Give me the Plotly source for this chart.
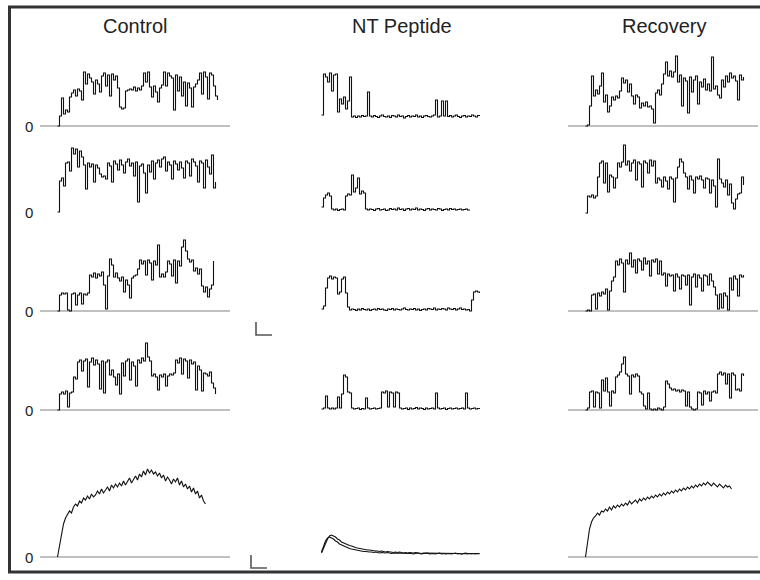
import numpy as np
import plotly.graph_objects as go

W, H = 760, 580
DT_MS = 12.5  # sampling interval of the displayed traces

COLUMN_TITLES = ["Control", "NT Peptide", "Recovery"]
ZERO_LABEL = "0"

# ---- single-channel current traces (pA) ----
ctrl_1 = [0, 1.0, 2.8, 1.2, 1.6, 1.4, 2.9, 3.3, 3.6, 3.0, 3.7, 3.5, 2.6, 5.4, 4.2, 5.2, 4.8,
          4.4, 3.2, 4.6, 4.2, 3.4, 5.0, 5.3, 4.0, 5.1, 3.0, 5.2, 4.6, 5.0, 3.8, 1.9, 1.7, 1.8,
          3.5, 3.6, 3.7, 3.6, 3.9, 3.5, 3.8, 3.6, 4.0, 5.3, 4.4, 5.4, 3.9, 2.9, 4.0, 3.4, 2.4,
          3.8, 4.1, 5.4, 4.0, 5.3, 5.0, 4.8, 1.6, 5.1, 3.5, 4.9, 3.0, 4.4, 2.0, 4.3, 3.8, 1.9,
          3.9, 4.2, 4.6, 5.3, 3.2, 5.4, 4.9, 2.7, 5.3, 5.1, 4.0, 3.0, 2.6]
nt_1 = [0.2, 4.3, 4.0, 3.5, 4.4, 2.6, 4.2, 4.3, 0.5, 1.8, 1.3, 2.0, 0.8, 1.6, 4.0, 0.0,
        0.1, -0.05, 0.1, 0.0, 0.15, 0.05, 0.1, 2.5,
        0.1, 0.0, 0.15, 0.05, -0.05, 0.1, 0.2, 0.05, 0.0, 0.1, -0.05, 0.15, 0.1, 0.0, 0.2, 0.05,
        0.1, -0.1, 0.05, 0.15, 0.0, 0.1, 0.05, 0.2, 0.0, 0.1, -0.05, 0.1, 0.15, 0.05, 0.0, 0.1,
        0.2, 1.7, 0.0, 0.1, 1.6, 0.1, 1.6,
        0.05, 0.15, 0.0, 0.1, 0.2, 0.05, -0.05, 0.1, 0.15, 0.0, 0.1, 0.05, 0.2, 0.1, 0.0, 0.15, 0.1]
rec_1 = [0, 0.1, 2.0, 5.0, 3.0, 3.6, 3.2, 4.0, 5.3, 2.4, 3.1, 1.4, 2.0, 2.9, 2.6, 3.0, 2.8,
         3.5, 4.8, 4.3, 4.6, 3.4, 4.2, 3.0, 2.2, 3.1, 2.9, 1.8, 2.3, 2.0, 2.4, 1.9, 2.0, 1.7,
         0.3, 3.3, 3.6, 3.1, 4.2, 5.2, 6.4, 5.0, 5.5, 4.9, 5.4, 7.0, 4.4, 5.1, 2.0, 4.8, 4.5,
         1.3, 4.9, 3.4, 4.6, 5.0, 2.2, 4.4, 3.9, 4.7, 3.6, 4.2, 3.5, 6.9, 3.7, 4.0, 3.1, 2.8,
         4.6, 3.9, 5.0, 4.4, 5.3, 4.8, 5.0, 4.5, 2.6, 5.1, 4.6, 4.9]

ctrl_2 = [0, 3.1, 3.4, 2.6, 4.9, 5.0, 4.1, 6.4, 5.8, 6.3, 4.5, 6.1, 5.5, 4.7, 2.3, 4.9, 4.5,
          4.8, 3.0, 4.7, 4.4, 3.8, 3.5, 3.6, 3.3, 4.9, 4.6, 3.0, 5.1, 4.8, 4.2, 5.2, 4.7, 3.9,
          5.0, 5.3, 4.6, 4.9, 3.6, 5.0, 1.0, 4.6, 4.8, 3.9, 1.9, 4.7, 4.0, 5.1, 3.3, 4.9, 5.2,
          4.5, 5.3, 5.5, 4.1, 5.0, 4.7, 3.3, 5.1, 4.8, 4.2, 5.0, 4.4, 3.4, 5.1, 4.9, 3.6, 5.3,
          5.0, 4.6, 3.0, 5.1, 4.9, 2.4, 5.2, 4.5, 3.8, 5.7, 2.4, 3.0]
nt_2 = [0.3, 1.2, 1.5, 1.7, 1.4, 0.1, 0.0, 0.1, -0.05, 0.05, 0.1, 0.0,
        1.4, 1.6, 1.5, 3.5, 1.8, 2.2, 3.2, 1.6, 1.9, 1.7, 0.1,
        0.0, 0.1, 0.05, -0.05, 0.1, 0.15, 0.0, 0.05, 0.1, -0.05, 0.0, 0.15, 0.05, 0.1, 0.0,
        0.2, 0.05, 0.1, -0.05, 0.1, 0.15, 0.0, 0.1, 0.05, 0.2, 0.0, 0.1, 0.05, -0.05, 0.1,
        0.15, 0.0, 0.1, 0.05, 0.0, 0.15, 0.1, -0.05, 0.05, 0.1, 0.0, 0.15, 0.05, 0.1, 0.0,
        0.05, 0.1, 0.0, 0.05, 0.1, 0.0, 0.05]
rec_2 = [0, 1.7, 1.6, 1.8, 1.5, 1.7, 3.6, 5.0, 5.2, 3.0, 5.0, 2.1, 3.8, 3.6, 2.5, 3.5, 5.0,
         4.6, 5.1, 6.8, 4.8, 5.2, 4.2, 5.0, 5.3, 3.3, 5.1, 4.9, 2.6, 5.2, 5.0, 4.0, 5.3, 4.7,
         5.2, 3.0, 3.5, 3.3, 2.6, 3.6, 3.2, 2.4, 3.6, 3.4, 1.1, 3.5, 4.6, 5.4, 5.1, 4.0, 3.6,
         2.4, 3.7, 3.3, 2.0, 3.6, 3.4, 3.7, 3.3, 2.5, 3.5, 3.4, 2.0, 3.3, 2.7, 0.6, 5.4, 3.4,
         3.0, 2.6, 3.3, 1.8, 2.9, 1.0, 0.4, 1.4, 1.9, 2.0, 3.6, 2.8]

ctrl_3 = [0, 1.6, 1.8, 1.7, 1.8, 0.1, 0.0, 1.7, 1.8, 0.6, 1.6, 1.8, 0.7, 1.7, 1.6, 1.8, 3.6,
          3.4, 3.8, 3.3, 3.7, 3.5, 3.9, 2.6, 0.2, 3.5, 5.2, 4.6, 3.4, 3.8, 3.3, 3.0, 3.4, 1.9,
          3.1, 2.6, 1.3, 3.3, 3.5, 3.6, 4.2, 5.1, 4.7, 5.0, 3.6, 5.1, 4.8, 3.1, 5.0, 4.6, 6.6,
          3.4, 3.7, 3.4, 3.9, 5.0, 4.7, 3.5, 5.1, 2.8, 5.0, 4.5, 6.4, 7.1, 6.0, 5.2, 4.9, 5.1,
          4.0, 4.3, 3.7, 4.2, 2.5, 1.9, 2.4, 1.4, 2.2, 2.6, 5.0]
nt_3 = [0.1, 0.4, 2.2, 3.2, 3.4, 3.1, 3.3, 3.2, 1.6, 1.8, 3.1, 3.3, 1.7, 0.3,
        0.0, 0.1, 0.05, -0.05, 0.1, 0.0, 0.15, 0.05, 0.0, 0.1, -0.05, 0.05, 0.1, 0.0, 0.15,
        0.05, 0.1, 0.0, -0.05, 0.1, 0.05, 0.15, 0.0, 0.1, 0.05, 0.0, 0.1, 0.2, 0.05, 0.0,
        0.1, 0.05, 0.15, 0.0, 0.1, -0.05, 0.05, 0.1, 0.0, 0.15, 0.1, 0.05, 0.2, 0.0, 0.1,
        0.05, 0.15, 0.1, 0.0, 0.2, 0.1, 0.05, 0.15, 0.0, 0.1, 0.2, 0.05, 0.1, 0.0, 0.05, -0.1,
        1.0, 1.8, 1.9, 1.8, 1.7]
rec_3 = [0, 0.1, 0.0, 1.6, 1.7, 0.2, 1.8, 1.5, 1.9, 1.7, 2.2, 0.1, 2.0, 3.0, 3.4, 5.0, 4.6,
         5.2, 4.8, 1.9, 5.1, 4.7, 5.8, 4.4, 5.1, 3.8, 5.2, 5.0, 4.1, 5.3, 4.7, 5.0, 3.5, 5.1,
         4.9, 5.2, 3.7, 5.0, 3.6, 3.8, 2.5, 3.7, 3.5, 3.6, 2.0, 3.7, 3.4, 2.2, 3.6, 3.5, 2.6,
         3.6, 0.6, 3.4, 3.7, 2.4, 3.6, 3.3, 2.0, 3.6, 3.5, 2.6, 3.7, 3.0, 2.4, 1.6, 0.2, 1.7,
         0.3, 1.8, 1.5, 0.1, 3.3, 2.1, 3.5, 3.2, 1.5, 3.6, 3.4, 3.6]

ctrl_4 = [0, 1.6, 1.8, 1.6, 1.9, 0.3, 1.7, 1.8, 3.3, 3.1, 4.8, 5.0, 3.9, 4.9, 5.1, 2.3, 4.8,
          5.2, 4.5, 5.0, 4.6, 2.1, 4.9, 1.7, 4.8, 5.0, 3.5, 4.0, 3.3, 2.5, 3.6, 1.6, 4.7, 3.4,
          4.9, 5.1, 3.0, 4.8, 4.4, 2.4, 5.0, 4.7, 5.2, 4.9, 6.7, 5.3, 4.9, 3.4, 3.6, 3.3, 2.0,
          3.5, 3.3, 3.6, 2.4, 3.4, 3.6, 3.5, 3.7, 5.0, 4.7, 5.2, 3.6, 5.1, 4.9, 3.2, 5.0, 4.6,
          4.8, 2.0, 4.4, 4.0, 1.9, 3.7, 3.6, 3.4, 3.8, 2.7, 2.2, 1.6]
nt_4 = [0.0, 0.1, 1.3, 0.1, 0.0, 0.1, 0.0, 0.1, 1.2, 0.1, 1.5, 3.4, 3.2, 1.7, 1.6, 0.1,
        0.0, 0.05, 0.1, -0.05, 0.05, 0.0, 1.1, 0.1, 0.0, 0.05, 0.1, 0.0, 0.05, 0.1,
        1.7, 1.6, 1.8, 0.2, 1.7, 1.6, 0.2, 1.7, 1.6, 0.1,
        0.0, 0.05, 0.1, -0.05, 0.1, 0.0, 0.05, 0.15, 0.0, 0.1, 0.05, -0.05, 0.1, 0.0, 0.05,
        0.1, 0.0, 1.6, 0.1, 0.0, 0.05, 0.1, -0.05, 0.05, 0.1, 0.0, 0.05, 0.1, 0.0, 0.05, 0.1,
        0.0, 1.6, 0.1, 0.0, 0.05, 0.1, 0.0, 0.05, 0.1]
rec_4 = [0, 0.2, 1.8, 1.9, 0.3, 1.8, 1.7, 0.2, 3.0, 1.9, 3.2, 1.8, 0.4, 1.9, 1.7, 3.3, 3.5,
         3.8, 4.6, 5.3, 3.6, 3.4, 1.6, 3.5, 3.3, 3.6, 3.4, 1.8, 1.6, 0.4, 0.1, 1.7, 0.1, 0.0,
         0.1, 0.0, 0.2, 0.1, 0.0, 0.3, 2.9, 2.6, 2.2, 2.0, 2.1, 1.9, 2.0, 1.8, 2.0, 1.9, 0.4,
         1.8, 0.3, 0.1, 0.0, 0.1, 1.8, 1.7, 0.5, 1.9, 1.6, 1.8, 0.9, 1.8, 1.9, 1.7, 3.6, 3.8,
         3.5, 3.7, 2.6, 3.6, 1.2, 3.7, 3.5, 2.0, 2.1, 1.9, 3.6, 3.4]

# ---- ensemble averages (pA) ----
ctrl_5 = [0, 1.2, 2.4, 3.3, 3.9, 4.3, 4.6, 4.4, 5.0, 5.3, 5.1, 5.6, 5.4, 5.9, 5.7, 6.1, 5.8,
          6.3, 6.0, 6.2, 6.6, 6.3, 6.8, 6.4, 6.7, 7.0, 6.6, 7.2, 6.9, 7.3, 7.0, 7.4, 7.1, 7.6,
          7.2, 7.5, 7.9, 7.4, 7.8, 8.1, 7.7, 8.3, 8.0, 8.6, 8.2, 8.8, 8.4, 8.7, 8.3, 8.5, 8.1,
          8.4, 7.9, 8.2, 7.6, 8.0, 7.7, 7.3, 7.8, 7.5, 7.9, 7.2, 7.6, 7.0, 7.3, 6.8, 7.1, 6.5,
          6.9, 6.3, 6.6, 5.9, 6.2, 5.6, 5.3]
nt_5a = [0.2, 0.8, 1.3, 1.6, 1.7, 1.6, 1.5, 1.3, 1.2, 1.0, 0.9, 0.8, 0.7, 0.6, 0.55, 0.5,
         0.45, 0.4, 0.35, 0.3, 0.3, 0.25, 0.25, 0.2, 0.2, 0.2, 0.15, 0.2, 0.15, 0.1, 0.15, 0.1,
         0.1, 0.15, 0.1, 0.05, 0.1, 0.1, 0.05, 0.1, 0.05, 0.1, 0.05, 0.05, 0.1, 0.05, 0.0, 0.05,
         0.1, 0.05, 0.0, 0.05, 0.05, 0.1, 0.0, 0.05, 0.05, 0.0, 0.05, 0.1, 0.0, 0.05, 0.0, 0.05,
         0.05, 0.0, 0.05, 0.1, 0.0, 0.05, 0.0, 0.05, 0.05, 0.0, 0.05, 0.0, 0.05, 0.0, 0.05, 0.0]
nt_5b = [0.1, 0.6, 1.1, 1.5, 1.8, 1.9, 1.8, 1.7, 1.5, 1.4, 1.2, 1.1, 1.0, 0.9, 0.85, 0.8,
         0.7, 0.65, 0.6, 0.55, 0.5, 0.5, 0.45, 0.4, 0.4, 0.35, 0.35, 0.3, 0.3, 0.25, 0.3, 0.25,
         0.2, 0.25, 0.2, 0.2, 0.15, 0.2, 0.15, 0.2, 0.15, 0.1, 0.15, 0.1, 0.15, 0.1, 0.1, 0.15,
         0.1, 0.1, 0.05, 0.1, 0.1, 0.05, 0.1, 0.05, 0.1, 0.05, 0.1, 0.05, 0.05, 0.1, 0.05, 0.05,
         0.1, 0.05, 0.05, 0.1, 0.05, 0.05, 0.0, 0.05, 0.1, 0.05, 0.05, 0.0, 0.05, 0.05, 0.0, 0.05]
rec_5 = [0, 1.5, 2.8, 3.5, 3.9, 4.1, 4.4, 4.2, 4.6, 4.5, 4.8, 4.6, 5.0, 4.7, 5.1, 4.9, 5.2,
         5.0, 5.3, 5.1, 5.4, 5.2, 5.6, 5.3, 5.5, 5.7, 5.4, 5.8, 5.6, 5.9, 5.7, 6.0, 5.8, 6.1,
         5.9, 6.2, 6.0, 6.3, 6.1, 6.4, 6.2, 6.5, 6.3, 6.6, 6.4, 6.7, 6.5, 6.8, 6.6, 6.9, 6.7,
         7.0, 6.8, 7.1, 6.9, 7.2, 7.0, 7.3, 7.1, 7.4, 7.2, 7.5, 7.3, 7.1, 7.4, 7.2, 7.0, 7.3,
         7.1, 6.9, 7.2, 7.0, 7.1, 6.8]

# scale bars
SCALE_BAR_MS = 100
SCALE_BAR_PA = 1.3

ROWS = [
    [[ctrl_1], [nt_1], [rec_1]],
    [[ctrl_2], [nt_2], [rec_2]],
    [[ctrl_3], [nt_3], [rec_3]],
    [[ctrl_4], [nt_4], [rec_4]],
    [[ctrl_5], [nt_5a, nt_5b], [rec_5]],
]

# ---- geometry (pixels) ----
MS_PER_PX = 6.25
PX_PER_PA = 10.0
COL_PX = [(40, 230), (311, 489), (568, 758)]
TRACE_START_PX = [57.5, 321.5, 585.5]
BASE_PX = [[126, 117, 126], [212, 210, 213], [311, 310, 311], [410, 409, 410], [557, 554, 557]]
ROW_ABOVE_PX = [80, 80, 80, 80, 100]
BELOW_PX = 10
HAS_BASELINE = [True, False, True]

TRACE_COLOR = "#111111"
BASE_COLOR = "#ababab"
TEXT_COLOR = "#222222"
FONT = "Liberation Sans, Arial, sans-serif"

fig = go.Figure()
layout = {}
shapes = []
annotations = []

k = 0
for r, row in enumerate(ROWS):
    for c, series_list in enumerate(row):
        k += 1
        xa = "x" if k == 1 else f"x{k}"
        ya = "y" if k == 1 else f"y{k}"
        x0p, x1p = COL_PX[c]
        xs = (x0p - TRACE_START_PX[c]) * MS_PER_PX
        xe = xs + (x1p - x0p) * MS_PER_PX
        b = BASE_PX[r][c]
        top = ROW_ABOVE_PX[r]
        layout[f"xaxis{'' if k == 1 else k}"] = dict(
            domain=[x0p / W, x1p / W], range=[xs, xe], visible=False, fixedrange=True,
            anchor=ya)
        layout[f"yaxis{'' if k == 1 else k}"] = dict(
            domain=[1 - (b + BELOW_PX) / H, 1 - (b - top) / H],
            range=[-BELOW_PX / PX_PER_PA, top / PX_PER_PA], visible=False, fixedrange=True,
            anchor=xa)
        if HAS_BASELINE[c]:
            shapes.append(dict(type="line", xref=f"{xa} domain", yref=ya, x0=0, x1=1, y0=0, y1=0,
                               line=dict(color=BASE_COLOR, width=1.6), layer="below"))
        if c == 0:
            annotations.append(dict(text=ZERO_LABEL, xref=f"{xa} domain", yref=ya, x=0, y=0,
                                    xanchor="right", yanchor="middle", xshift=-5, showarrow=False,
                                    font=dict(size=15, color=TEXT_COLOR, family=FONT)))
        for vals in series_list:
            t = np.arange(len(vals)) * DT_MS
            fig.add_trace(go.Scatter(
                x=t, y=vals, mode="lines", xaxis=xa, yaxis=ya,
                line=dict(color=TRACE_COLOR, width=1.1, shape="linear" if r == 4 else "hv"),
                hoverinfo="skip", showlegend=False))

# scale bar axes
for j, (bx, by) in enumerate([(256, 335), (251, 568)]):
    k += 1
    xa, ya = f"x{k}", f"y{k}"
    layout[f"xaxis{k}"] = dict(domain=[(bx - 6) / W, (bx + 34) / W],
                               range=[-6 * MS_PER_PX, 34 * MS_PER_PX],
                               visible=False, fixedrange=True, anchor=ya)
    layout[f"yaxis{k}"] = dict(domain=[1 - (by + 6) / H, 1 - (by - 19) / H],
                               range=[-6 / PX_PER_PA, 19 / PX_PER_PA],
                               visible=False, fixedrange=True, anchor=xa)
    fig.add_trace(go.Scatter(x=[0, 0, SCALE_BAR_MS], y=[SCALE_BAR_PA, 0, 0], mode="lines",
                             xaxis=xa, yaxis=ya, line=dict(color="#555555", width=1.6),
                             hoverinfo="skip", showlegend=False))

# column titles
for title, cx in zip(COLUMN_TITLES, [135, 402, 664]):
    annotations.append(dict(text=title, xref="paper", yref="paper", x=cx / W, y=1 - 26 / H,
                            xanchor="center", yanchor="middle", showarrow=False,
                            font=dict(size=20, color=TEXT_COLOR, family=FONT)))

# frame (right edge lies outside the visible picture)
shapes.append(dict(type="rect", xref="paper", yref="paper", x0=9.5 / W, x1=763 / W,
                   y0=1 - 572 / H, y1=1 - 7 / H, line=dict(color="#333333", width=3)))

fig.update_layout(width=W, height=H, margin=dict(l=0, r=0, t=0, b=0),
                  paper_bgcolor="white", plot_bgcolor="white", showlegend=False,
                  shapes=shapes, annotations=annotations, **layout)

fig.write_html("out.html")
